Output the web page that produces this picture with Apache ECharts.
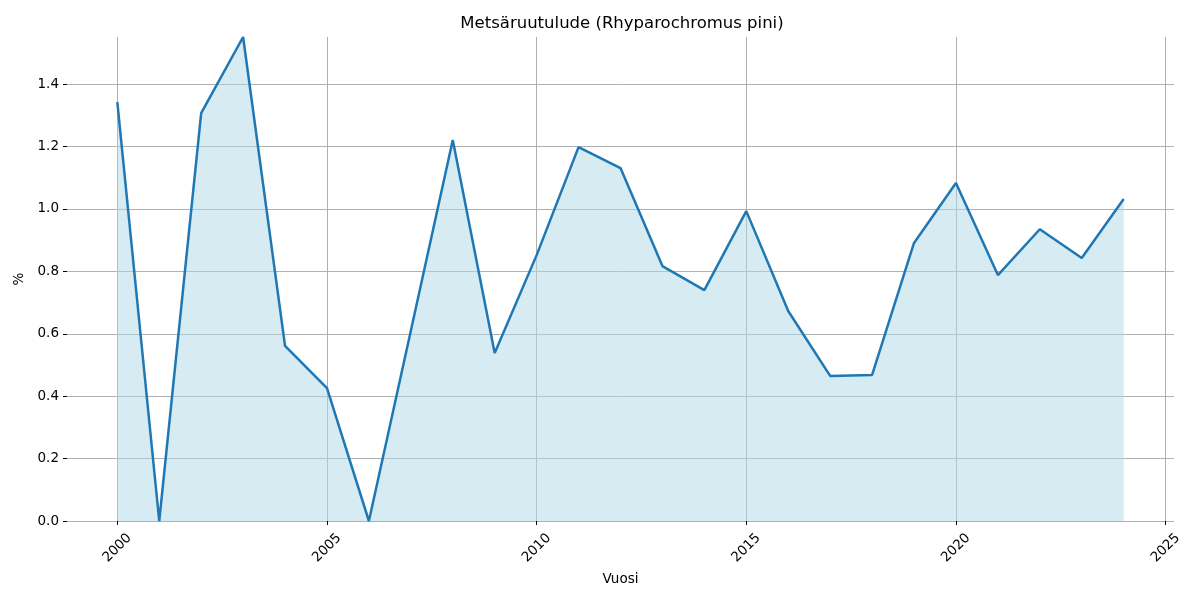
<!DOCTYPE html>
<html>
<head>
<meta charset="utf-8">
<script src="https://cdn.jsdelivr.net/npm/echarts@6/dist/echarts.min.js"></script>
<style>html,body{margin:0;padding:0;background:#fff}#c{width:1200px;height:600px}</style>
</head>
<body>
<div id="c"></div>
<script>
const years = [2000,2001,2002,2003,2004,2005,2006,2007,2008,2009,2010,2011,2012,2013,2014,2015,2016,2017,2018,2019,2020,2021,2022,2023,2024];
const values = [1.342,0.0,1.307,1.551,0.561,0.426,0.0,0.61,1.221,0.538,0.852,1.198,1.131,0.817,0.740,0.993,0.673,0.465,0.468,0.891,1.083,0.788,0.935,0.843,1.032];
const xTicks = [2000,2005,2010,2015,2020,2025];
const yTicks = [0,0.2,0.4,0.6,0.8,1.0,1.2,1.4];
const titleText = 'Metsäruutulude (Rhyparochromus pini)';
const xName = 'Vuosi';
const yName = '%';

const chart = echarts.init(document.getElementById('c'), null, {renderer:'canvas'});
const font = 'DejaVu Sans';
chart.setOption({
  animation:false,
  backgroundColor:'#fff',
  title:{text:titleText,left:617,top:10,textAlign:'center',
    textStyle:{fontFamily:font,fontSize:16.5,fontWeight:'normal',color:'#000'}},
  grid:{left:67,right:26,top:37,bottom:79,containLabel:false},
  xAxis:{type:'value',min:1998.8,max:2025.2,
    name:xName,nameLocation:'middle',nameGap:50,
    nameTextStyle:{fontFamily:font,fontSize:13.5,color:'#000'},
    axisLine:{show:false},
    axisTick:{show:true,length:4,lineStyle:{color:'#000',width:1},customValues:xTicks},
    axisLabel:{customValues:xTicks,rotate:45,margin:27,align:'center',verticalAlign:'middle',
      fontFamily:font,fontSize:13.5,color:'#000',formatter:v=>String(v)},
    splitLine:{show:true,lineStyle:{color:'#b0b0b0',width:1}}
  },
  yAxis:{type:'value',min:0,max:1.551,
    name:yName,nameLocation:'middle',nameGap:36,nameRotate:90,
    nameTextStyle:{fontFamily:font,fontSize:13.5,color:'#000'},
    axisLine:{show:false},
    axisTick:{show:true,length:4,lineStyle:{color:'#000',width:1},customValues:yTicks},
    axisLabel:{customValues:yTicks,margin:8,fontFamily:font,fontSize:13.5,color:'#000',
      formatter:v=>v.toFixed(1)},
    splitLine:{show:true,lineStyle:{color:'#b0b0b0',width:1}}
  },
  series:[{
    type:'line',
    data:years.map((y,i)=>[y,values[i]]),
    symbol:'none',
    lineStyle:{color:'#1f77b4',width:2.5},
    itemStyle:{color:'#1f77b4'},
    areaStyle:{color:'rgba(173,216,230,0.5)',opacity:1,origin:'start'},
    z:3
  }]
});
</script>
</body>
</html>
